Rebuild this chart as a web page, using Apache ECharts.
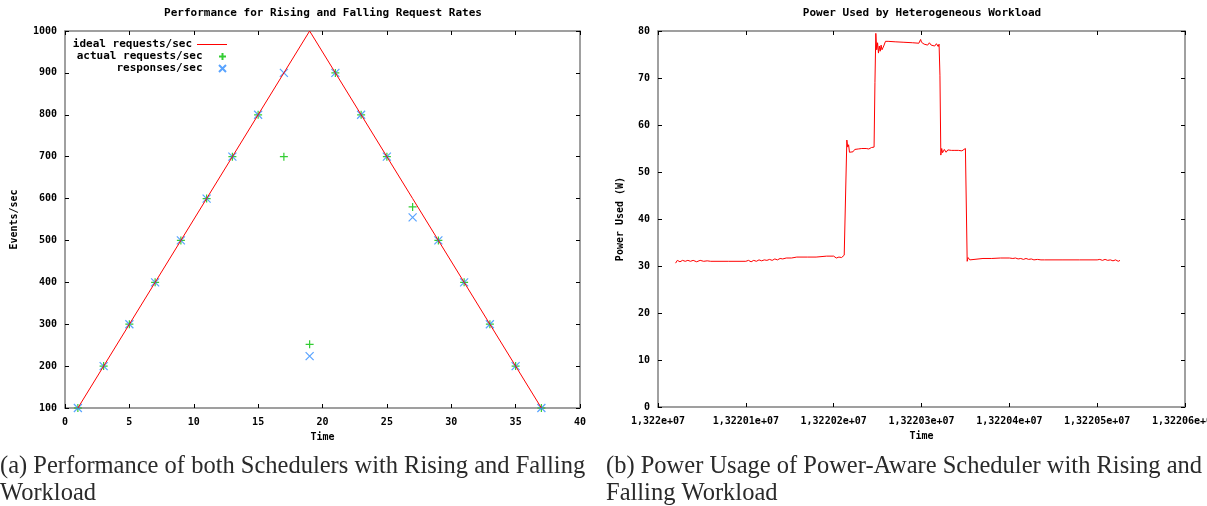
<!DOCTYPE html>
<html>
<head>
<meta charset="utf-8">
<script src="https://cdn.jsdelivr.net/npm/echarts@6/dist/echarts.min.js"></script>
<style>
  html, body { margin: 0; padding: 0; background: #fff; }
  #main { width: 1207px; height: 506px; }
</style>
</head>
<body>
<div id="main"></div>
<script>
// left chart: request rates
var reqTime = [1, 3, 5, 7, 9, 11, 13, 15, 17, 19, 21, 23, 25, 27, 29, 31, 33, 35, 37];
var idealReq = [100, 200, 300, 400, 500, 600, 700, 800, 900, 1000, 900, 800, 700, 600, 500, 400, 300, 200, 100];
var actualReq = [100, 200, 300, 400, 500, 600, 700, 800, 700, 252, 900, 800, 700, 580, 500, 400, 300, 200, 100];
var responses = [100, 200, 300, 400, 500, 600, 700, 800, 900, 224, 900, 800, 700, 555, 500, 400, 300, 200, 100];

// right chart: power trace
var powerTime = [
  13220020, 13220022, 13220025, 13220028, 13220031, 13220034, 13220037, 13220040, 13220044, 13220048,
  13220052, 13220056, 13220060, 13220080, 13220100, 13220103, 13220106, 13220109, 13220112, 13220115,
  13220118, 13220121, 13220124, 13220127, 13220130, 13220133, 13220136, 13220139, 13220142, 13220146,
  13220152, 13220158, 13220170, 13220180, 13220192, 13220200, 13220203, 13220206, 13220209, 13220212,
  13220214, 13220215, 13220216, 13220217, 13220218, 13220220, 13220222, 13220224, 13220226, 13220228,
  13220230, 13220232, 13220234, 13220237, 13220240, 13220243, 13220246, 13220247, 13220248, 13220249,
  13220250, 13220251, 13220252, 13220253, 13220254, 13220255, 13220257, 13220259, 13220262, 13220270,
  13220280, 13220290, 13220297, 13220299, 13220300, 13220302, 13220303, 13220305, 13220307, 13220309,
  13220311, 13220313, 13220315, 13220317, 13220319, 13220320, 13220321, 13220322, 13220323, 13220324,
  13220326, 13220328, 13220330, 13220332, 13220334, 13220336, 13220338, 13220340, 13220342, 13220344,
  13220346, 13220348, 13220350, 13220351, 13220352, 13220353, 13220355, 13220357, 13220370, 13220380,
  13220390, 13220400, 13220402, 13220404, 13220407, 13220410, 13220413, 13220416, 13220419, 13220422,
  13220425, 13220428, 13220432, 13220436, 13220440, 13220460, 13220480, 13220500, 13220503, 13220506,
  13220509, 13220512, 13220515, 13220518, 13220521, 13220524, 13220526
];
var powerWatts = [
  30.6, 31.2, 30.9, 31.2, 31.0, 31.2, 31.0, 31.2, 30.9, 31.2,
  31.0, 31.1, 31.0, 31.0, 31.0, 31.2, 30.9, 31.2, 31.0, 31.3,
  31.1, 31.3, 31.2, 31.4, 31.2, 31.5, 31.3, 31.6, 31.5, 31.7,
  31.7, 31.9, 31.9, 31.9, 32.1, 32.1, 31.7, 31.9, 31.8, 32.3,
  32.5, 56.8, 55.3, 55.8, 54.2, 54.6, 54.3, 54.8, 54.4, 54.9,
  54.5, 55.0, 54.7, 55.0, 54.9, 55.2, 55.3, 69.0, 79.5, 76.0,
  77.5, 75.3, 76.8, 75.7, 77.0, 76.0, 76.8, 77.8, 77.8, 77.7,
  77.6, 77.5, 77.4, 78.2, 77.6, 77.8, 77.2, 77.6, 77.0, 77.5,
  77.0, 77.3, 76.8, 77.3, 76.7, 77.2, 70.6, 53.6, 55.0, 54.1,
  54.8, 54.2, 54.7, 54.3, 54.6, 54.2, 54.6, 54.3, 54.6, 54.3,
  54.5, 54.3, 55.0, 54.6, 31.0, 31.8, 31.3, 31.6, 31.6, 31.6,
  31.7, 31.7, 32.1, 31.6, 31.7, 31.5, 31.6, 31.4, 31.6, 31.4,
  31.5, 31.3, 31.4, 31.3, 31.3, 31.3, 31.3, 31.3, 31.4, 31.2,
  31.4, 31.2, 31.3, 31.1, 31.3, 31.0, 31.2
];

var MONO = '"DejaVu Sans Mono", monospace';
var SERIF = '24.5px "Liberation Serif", serif';
var BORDER = '#808080';

function pairs(xs, ys) {
  var out = [];
  for (var i = 0; i < xs.length; i++) out.push([xs[i], ys[i]]);
  return out;
}

function sciLabel(v) {
  var s = parseFloat((v / 1e7).toPrecision(6)).toString();
  return s.replace('.', ',') + 'e+07';
}

function plainLabel(v) {
  return String(v);
}

var labelStyle = { fontFamily: MONO, fontWeight: 'bold', fontSize: 10, color: '#000' };
var legendText = { fontFamily: MONO, fontWeight: 'bold', fontSize: 11, color: '#000' };

function axis(opt) {
  var base = {
    type: 'value',
    axisLine: { show: true, onZero: false, lineStyle: { color: BORDER, width: 1.5 } },
    axisTick: { show: true, inside: true, length: 4, lineStyle: { color: '#000', width: 1 } },
    splitLine: { show: false },
    axisLabel: labelStyle,
    nameTextStyle: { fontFamily: MONO, fontWeight: 'bold', fontSize: 10, color: '#000' }
  };
  for (var k in opt) base[k] = opt[k];
  return base;
}

var chart = echarts.init(document.getElementById('main'), null, { renderer: 'canvas' });

var plus = 'path://M0,4L8,4M4,0L4,8';
var cross = 'path://M0,0L8,8M0,8L8,0';

var option = {
  backgroundColor: '#fff',
  animation: false,
  grid: [
    { left: 65, right: 627, top: 31, bottom: 98, outerBoundsMode: 'none' },
    { left: 658, right: 22, top: 31, bottom: 99, outerBoundsMode: 'none' }
  ],
  xAxis: [
    axis({ gridIndex: 0, min: 0, max: 40, interval: 5, name: 'Time', nameLocation: 'middle', nameGap: 24,
           axisLabel: Object.assign({ margin: 9, formatter: plainLabel }, labelStyle) }),
    axis({ gridIndex: 0, position: 'top', min: 0, max: 40, interval: 5, axisLabel: { show: false } }),
    axis({ gridIndex: 1, min: 13220000, max: 13220600, interval: 100, name: 'Time', nameLocation: 'middle', nameGap: 24,
           axisLabel: Object.assign({ margin: 9, formatter: sciLabel }, labelStyle) }),
    axis({ gridIndex: 1, position: 'top', min: 13220000, max: 13220600, interval: 100, axisLabel: { show: false } })
  ],
  yAxis: [
    axis({ gridIndex: 0, min: 100, max: 1000, interval: 100, name: 'Events/sec', nameLocation: 'middle', nameGap: 46,
           axisLabel: Object.assign({ margin: 8, formatter: plainLabel }, labelStyle) }),
    axis({ gridIndex: 0, position: 'right', min: 100, max: 1000, interval: 100, axisLabel: { show: false } }),
    axis({ gridIndex: 1, min: 0, max: 80, interval: 10, name: 'Power Used (W)', nameLocation: 'middle', nameGap: 33,
           axisLabel: Object.assign({ margin: 8, formatter: plainLabel }, labelStyle) }),
    axis({ gridIndex: 1, position: 'right', min: 0, max: 80, interval: 10, axisLabel: { show: false } })
  ],
  legend: [
    { data: [{ name: 'ideal requests/sec', icon: 'rect' }], right: 975, top: 34, align: 'right',
      itemWidth: 30, itemHeight: 1, textStyle: legendText },
    { data: ['actual requests/sec'], right: 975, top: 46, align: 'right', itemWidth: 30, itemHeight: 7,
      textStyle: legendText },
    { data: ['responses/sec'], right: 975, top: 58, align: 'right', itemWidth: 30, itemHeight: 7,
      textStyle: legendText }
  ],
  graphic: [
    { type: 'text', x: 323, y: 13, style: { text: 'Performance for Rising and Falling Request Rates',
      textAlign: 'center', textVerticalAlign: 'middle', font: 'bold 11px ' + MONO, fill: '#000' } },
    { type: 'text', x: 922, y: 13, style: { text: 'Power Used by Heterogeneous Workload',
      textAlign: 'center', textVerticalAlign: 'middle', font: 'bold 11px ' + MONO, fill: '#000' } },
    { type: 'text', x: 0, y: 467, style: { text: '(a) Performance of both Schedulers with Rising and Falling',
      textAlign: 'left', textVerticalAlign: 'middle', font: SERIF, fill: '#2a2a2a' } },
    { type: 'text', x: 0, y: 494, style: { text: 'Workload',
      textAlign: 'left', textVerticalAlign: 'middle', font: SERIF, fill: '#2a2a2a' } },
    { type: 'text', x: 606, y: 467, style: { text: '(b) Power Usage of Power-Aware Scheduler with Rising and',
      textAlign: 'left', textVerticalAlign: 'middle', font: SERIF, fill: '#2a2a2a' } },
    { type: 'text', x: 606, y: 494, style: { text: 'Falling Workload',
      textAlign: 'left', textVerticalAlign: 'middle', font: SERIF, fill: '#2a2a2a' } }
  ],
  series: [
    {
      name: 'ideal requests/sec', type: 'line', xAxisIndex: 0, yAxisIndex: 0,
      data: pairs(reqTime, idealReq), symbol: 'none',
      lineStyle: { color: '#ff0000', width: 1 }, itemStyle: { color: '#ff0000' }
    },
    {
      name: 'actual requests/sec', type: 'scatter', xAxisIndex: 0, yAxisIndex: 0,
      data: pairs(reqTime, actualReq), symbol: plus, symbolSize: 8,
      itemStyle: { color: '#00c000', borderColor: '#00c000', borderWidth: 1.2 }
    },
    {
      name: 'responses/sec', type: 'scatter', xAxisIndex: 0, yAxisIndex: 0,
      data: pairs(reqTime, responses), symbol: cross, symbolSize: 8,
      itemStyle: { color: '#2f8cff', borderColor: '#2f8cff', borderWidth: 1.2 }
    },
    {
      name: 'power', type: 'line', xAxisIndex: 2, yAxisIndex: 2,
      data: pairs(powerTime, powerWatts), symbol: 'none',
      lineStyle: { color: '#ff0000', width: 1 }
    }
  ]
};

chart.setOption(option);
</script>
</body>
</html>
